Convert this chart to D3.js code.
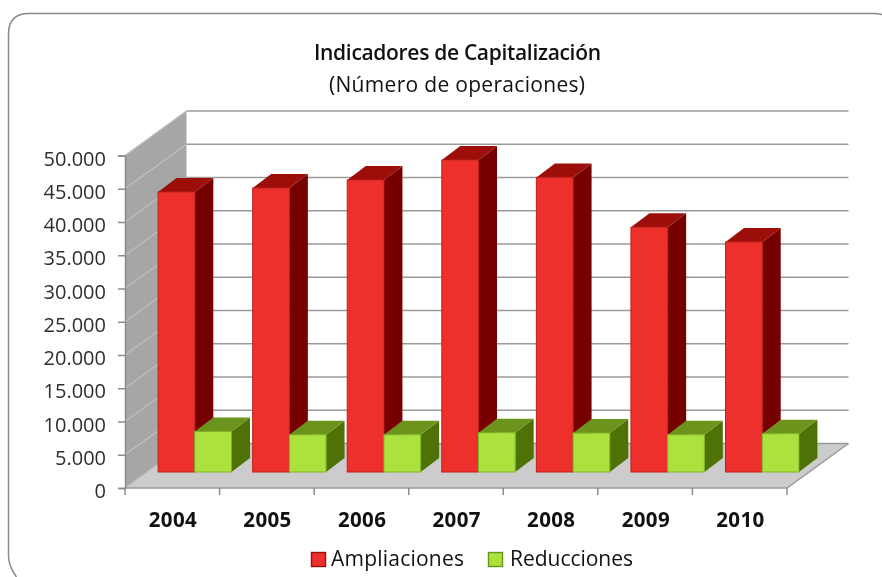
<!DOCTYPE html>
<html><head><meta charset="utf-8"><script src="https://cdnjs.cloudflare.com/ajax/libs/d3/7.8.5/d3.min.js"></script>
<style>html,body{margin:0;padding:0;background:#fff}svg{display:block;filter:blur(.35px)}text{font-family:"Open Sans",sans-serif;fill:#111}</style></head>
<body><script>
const years=["2004","2005","2006","2007","2008","2009","2010"];
const ampliaciones=[42100,42700,43900,46900,44300,36800,34600];
const reducciones=[6100,5600,5600,5900,5850,5600,5750];
const yTicks=[0,5000,10000,15000,20000,25000,30000,35000,40000,45000,50000];
const titleLines=["Indicadores de Capitalización","(Número de operaciones)"];
const seriesNames=["Ampliaciones","Reducciones"];
const W=882,H=577;
const fmt=v=>v===0?"0":d3.format(",")(v).replace(/,/g,".");
const svg=d3.select("body").append("svg").attr("width",W).attr("height",H);
svg.append("path").attr("fill","none").attr("stroke","#8a8a8a").attr("stroke-width",1.5)
 .attr("d","M16.5,577Q8.5,566 8.5,556V34Q8.5,13.5 29,13.5H876L882,14.5");
const y=d3.scaleLinear().domain([0,50000]).range([488,155.5]);
const x=d3.scaleBand().domain(years).range([125,787]);
const DX=61.5,DY=-44.5;
const wall="#a6a6a6",floor="#cccccc",grid="#9a9a9a",wallGrid="#bdbdbd";
const pt=(a,b)=>a+","+b;
svg.append("polygon").attr("fill",wall).attr("points",[pt(125,y(50000)),pt(125+DX,y(50000)+DY),pt(125+DX,y(0)+DY),pt(125,y(0))].join(" "));
svg.append("polygon").attr("fill",floor).attr("points",[pt(125,y(0)),pt(787,y(0)),pt(787+DX,y(0)+DY),pt(125+DX,y(0)+DY)].join(" "));
yTicks.forEach(t=>{
 const yy=y(t);
 svg.append("line").attr("stroke",wallGrid).attr("stroke-width",1.3)
  .attr("x1",125).attr("y1",yy).attr("x2",125+DX).attr("y2",yy+DY);
 svg.append("line").attr("stroke",grid).attr("stroke-width",1.6)
  .attr("x1",125+DX).attr("y1",yy+DY).attr("x2",787+DX).attr("y2",yy+DY);
});
svg.append("path").attr("fill","none").attr("stroke",grid).attr("stroke-width",1.5).attr("d","M125,"+y(0)+"H787L"+(787+DX)+","+(y(0)+DY));
const axisY=d3.axisLeft(y).tickValues(yTicks).tickFormat(fmt).tickSize(7).tickPadding(12);
const gy=svg.append("g").attr("transform","translate(125,0)").call(axisY);
gy.selectAll("line,path").attr("stroke","#8c8c8c").attr("stroke-width",1.5);
gy.selectAll("text").attr("dy","9.5px").attr("font-size",20).attr("font-family",null).style("fill","#2e2e2e");
[...years.map(d=>x(d)),787].forEach(t=>svg.append("line").attr("x1",t).attr("x2",t).attr("y1",488).attr("y2",495).attr("stroke","#8c8c8c").attr("stroke-width",1.5));
svg.selectAll(".xl").data(years).join("text").attr("class","xl").attr("x",d=>x(d)+x.bandwidth()/2+.5).attr("y",527)
 .attr("text-anchor","middle").attr("font-size",20.5).attr("font-weight",700).attr("textLength",48).text(d=>d);
const depthOff=22.5,baseOff=16,barW=36.7,sideX=18.5,sideY=-14;
const faces=[{f:"#ee302c",t:"#9c0e0a",s:"#760000",e:"#c0201c",v:ampliaciones,o:0},{f:"#abe23e",t:"#6c941c",s:"#4e7205",e:"#7fb52a",v:reducciones,o:barW}];
function bar(i,sr){
 const d=years[i];
 const x0=x(d)+depthOff+(x.bandwidth()-2*barW)/2+sr.o, x1=x0+barW;
 const top=y(sr.v[i])-baseOff, bot=y(0)-baseOff;
 svg.append("polygon").attr("fill",sr.s).attr("points",[pt(x1,top),pt(x1+sideX,top+sideY),pt(x1+sideX,bot+sideY),pt(x1,bot)].join(" "));
 svg.append("polygon").attr("fill",sr.t).attr("points",[pt(x0,top),pt(x0+sideX,top+sideY),pt(x1+sideX,top+sideY),pt(x1,top)].join(" "));
 svg.append("rect").attr("x",x0).attr("y",top).attr("width",barW).attr("height",bot-top).attr("fill",sr.f).attr("stroke",sr.e).attr("stroke-width",1);
}
years.forEach((d,i)=>{bar(i,faces[0]);bar(i,faces[1]);});
const titleW=[287,256];
svg.selectAll(".tt").data(titleLines).join("text").attr("class","tt").attr("x",(d,i)=>i?457:457.5).attr("y",(d,i)=>60+i*31.5)
 .attr("text-anchor","middle").attr("font-size",(d,i)=>i?21:21).attr("font-weight",(d,i)=>i?500:600).attr("textLength",(d,i)=>titleW[i]).text(d=>d);
const leg=[{x:311.5,tx:331,w:133,c:faces[0]},{x:488.5,tx:510,w:123,c:faces[1]}];
leg.forEach((l,i)=>{
 svg.append("rect").attr("x",l.x).attr("y",552.5).attr("width",14).attr("height",14).attr("fill",l.c.f).attr("stroke",i?"#6c941c":"#9c0e0a").attr("stroke-width",1.4);
 svg.append("text").attr("x",l.tx).attr("y",566).attr("font-size",21).attr("font-weight",500).attr("textLength",l.w).text(seriesNames[i]);
});
</script></body></html>
